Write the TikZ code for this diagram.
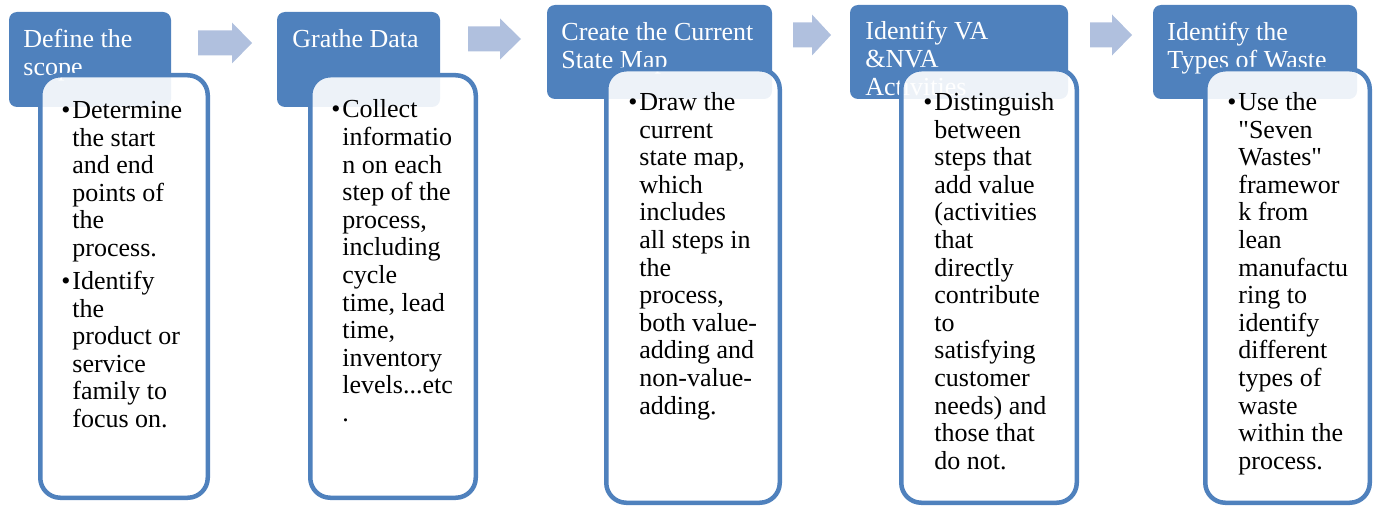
\documentclass[tikz,border=0pt]{standalone}
\usepackage{fontspec}
\setmainfont{Liberation Serif}[Ligatures=TeXOff]
\definecolor{hdr}{HTML}{4F81BD}
\definecolor{arr}{HTML}{B0C0DE}
\tikzset{
  hdrbox/.style={fill=hdr, draw=none, rounded corners=4pt},
  bodybox/.style={draw=hdr, line width=2.25pt, fill=white, fill opacity=0.9, rounded corners=10pt},
  hdrtext/.style={anchor=north west, inner sep=0pt, align=left, text=white, font=\fontsize{13}{13.8}\selectfont},
  bodytext/.style={anchor=north west, inner sep=0pt, align=left, text=black, font=\fontsize{13}{13.8}\selectfont},
  blockarrow/.style={fill=arr, draw=none},
}
\begin{document}
\begin{tikzpicture}[x=0.5pt,y=-0.5pt]
\useasboundingbox (0,0) rectangle (1374,508);

% arrows
\fill[blockarrow] (198,30.5) -- (232,30.5) -- (232,22.5) -- (252,43) -- (232,63.5) -- (232,55.5) -- (198,55.5) -- cycle;
\fill[blockarrow] (468,26.5) -- (500,26.5) -- (500,18.5) -- (521,39) -- (500,59.5) -- (500,51.5) -- (468,51.5) -- cycle;
\fill[blockarrow] (793,22.5) -- (812,22.5) -- (812,14.5) -- (831,35) -- (812,55.5) -- (812,47.5) -- (793,47.5) -- cycle;
\fill[blockarrow] (1090,22.5) -- (1112,22.5) -- (1112,14.5) -- (1132,35) -- (1112,55.5) -- (1112,47.5) -- (1090,47.5) -- cycle;

% step 1
\fill[hdrbox] (9,12) rectangle (171,107);
\node[hdrtext] (h1) at (23,28) {\strut Define the\\scope};
\path[bodybox] (40.25,75.25) rectangle (207.75,497.75);
\node[bodytext] (t1) at (72,98.7) {\strut\llap{•\hspace{1pt}}Determine\\the start\\and end\\points of\\the\\process.\\[2.7pt]\llap{•\hspace{1pt}}Identify\\the\\product or\\service\\family to\\focus on.};

% step 2
\fill[hdrbox] (277,12) rectangle (440,107);
\node[hdrtext] (h2) at (292,27.7) {\strut Grathe Data};
\path[bodybox] (310.25,75.25) rectangle (475.75,497.75);
\node[bodytext] (t2) at (342,98.2) {\strut\llap{•\hspace{1pt}}Collect\\informatio\\n on each\\step of the\\process,\\including\\cycle\\time, lead\\time,\\inventory\\levels...etc\\.};

% step 3
\fill[hdrbox] (547,5) rectangle (772,99);
\node[hdrtext] (h3) at (561,20.7) {\strut Create the Current\\State Map};
\path[bodybox] (606.25,69.25) rectangle (779.75,502.75);
\node[bodytext] (t3) at (639,90.7) {\strut\llap{•\hspace{1pt}}Draw the\\current\\state map,\\which\\includes\\all steps in\\the\\process,\\both value-\\adding and\\non-value-\\adding.};

% step 4
\fill[hdrbox] (850,5) rectangle (1068,99);
\node[hdrtext] (h4) at (865,20.2) {\strut Identify VA\\\&NVA\\Activities};
\path[bodybox] (901.25,69.25) rectangle (1076.75,502.75);
\node[bodytext] (t4) at (934,90.7) {\strut\llap{•\hspace{1pt}}Distinguish\\between\\steps that\\add value\\(activities\\that\\directly\\contribute\\to\\satisfying\\customer\\needs) and\\those that\\do not.};

% step 5
\fill[hdrbox] (1153,5) rectangle (1357,99);
\node[hdrtext] (h5) at (1167,20.7) {\strut Identify the\\Types of Waste};
\path[bodybox] (1205.25,69.25) rectangle (1369.75,502.75);
\node[bodytext] (t5) at (1238,90.7) {\strut\llap{•\hspace{1pt}}Use the\\"Seven\\Wastes"\\framewor\\k from\\lean\\manufactu\\ring to\\identify\\different\\types of\\waste\\within the\\process.};
\end{tikzpicture}
\end{document}
